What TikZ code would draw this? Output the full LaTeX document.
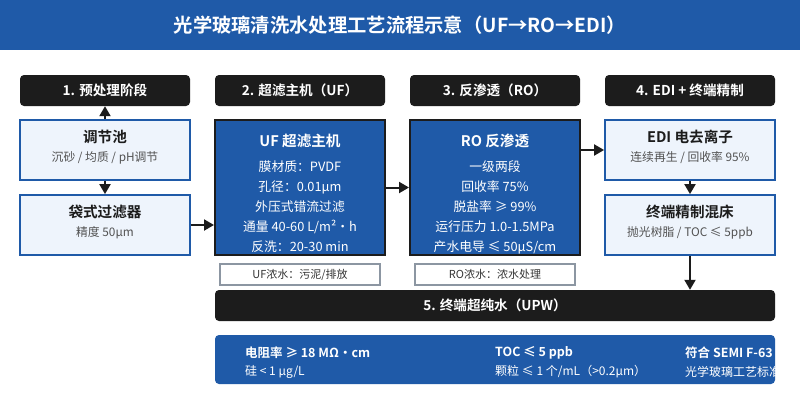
\documentclass[tikz,border=0pt]{standalone}
\usepackage{fontspec}
\setmainfont{Noto Sans CJK SC}[BoldFont={Noto Sans CJK SC Bold}]
\usetikzlibrary{arrows.meta}
\definecolor{mblue}{HTML}{1F5AA8}
\definecolor{mlight}{HTML}{EEF4FC}
\definecolor{mdark}{HTML}{1C1C1C}
\definecolor{mgray}{HTML}{8C96A2}
\definecolor{mtext}{HTML}{333333}
\begin{document}
\begin{tikzpicture}[x=1pt,y=-1pt,
  hdr/.style={fill=mdark, rounded corners=4pt, minimum width=170pt, minimum height=31pt, inner sep=0pt, text=white, font=\bfseries\fontsize{13.6}{15}\selectfont},
  lbox/.style={draw=mblue, line width=1.8pt, fill=mlight, minimum width=170pt, minimum height=60pt, inner sep=0pt},
  dbox/.style={draw=mdark, line width=2pt, fill=mblue, minimum width=170pt, minimum height=135pt, inner sep=0pt},
  gbox/.style={draw=mgray, line width=1.5pt, fill=white, minimum width=160pt, minimum height=21pt, inner sep=0pt, text=mtext, font=\fontsize{11}{13}\selectfont},
  ltitle/.style={text=mdark, font=\bfseries\fontsize{14.6}{16}\selectfont, inner sep=0pt},
  lsub/.style={text=mtext!85, font=\fontsize{11.8}{13}\selectfont, inner sep=0pt},
  dtitle/.style={text=white, font=\bfseries\fontsize{14.6}{16}\selectfont, inner sep=0pt},
  dline/.style={text=white, font=\fontsize{12.8}{14}\selectfont, inner sep=0pt},
  btitle/.style={text=white, font=\bfseries\fontsize{12.5}{14}\selectfont, inner sep=0pt, anchor=west},
  bline/.style={text=white, font=\fontsize{12}{14}\selectfont, inner sep=0pt, anchor=west},
  arr/.style={draw=mdark, line width=2pt, -{Triangle[width=11pt,length=10pt]}}
]
\useasboundingbox (0,0) rectangle (800,400);
\fill[white] (0,0) rectangle (800,400);
\fill[mblue] (0,0) rectangle (800,50);
\node[text=white, font=\bfseries\fontsize{19.3}{22}\selectfont] (title) at (400,25) {光学玻璃清洗水处理工艺流程示意（UF→RO→EDI）};

% headers
\node[hdr] (h1) at (105,90.5) {1. 预处理阶段};
\node[hdr] (h2) at (300,90.5) {2. 超滤主机（UF）};
\node[hdr] (h3) at (495,90.5) {3. 反渗透（RO）};
\node[hdr] (h4) at (690,90.5) {4. EDI + 终端精制};

% column 1
\node[lbox] (jt) at (105,150) {};
\node[ltitle] (jtt) at (105,137) {调节池};
\node[lsub] (jts) at (105,158) {沉砂 / 均质 / pH调节};
\node[lbox] (dz) at (105,225) {};
\node[ltitle] (dzt) at (105,212) {袋式过滤器};
\node[lsub] (dzs) at (105,233) {精度 50μm};

% UF
\node[dbox] (uf) at (300,187.5) {};
\node[dtitle] (uft) at (300,141) {UF 超滤主机};
\node[dline] (uf1) at (300,167) {膜材质：PVDF};
\node[dline] (uf2) at (300,187) {孔径：0.01μm};
\node[dline] (uf3) at (300,207) {外压式错流过滤};
\node[dline] (uf4) at (300,227) {通量 40-60 L/m²・h};
\node[dline] (uf5) at (300,247) {反洗：20-30 min};

% RO
\node[dbox] (ro) at (495,187.5) {};
\node[dtitle] (rot) at (495,141) {RO 反渗透};
\node[dline] (ro1) at (495,167) {一级两段};
\node[dline] (ro2) at (495,187) {回收率 75\%};
\node[dline] (ro3) at (495,207) {脱盐率 ≥ 99\%};
\node[dline] (ro4) at (495,227) {运行压力 1.0-1.5MPa};
\node[dline] (ro5) at (495,247) {产水电导 ≤ 50μS/cm};

% column 4
\node[lbox] (edi) at (690,150) {};
\node[ltitle] (edit) at (690,137) {EDI 电去离子};
\node[lsub] (edis) at (690,158) {连续再生 / 回收率 95\%};
\node[lbox] (zd) at (690,225) {};
\node[ltitle] (zdt) at (690,212) {终端精制混床};
\node[lsub] (zds) at (690,233) {抛光树脂 / TOC ≤ 5ppb};

% concentrate notes
\node[gbox] (ufn) at (300,274.5) {UF浓水：污泥/排放};
\node[gbox] (ron) at (495,274.5) {RO浓水：浓水处理};

% UPW bar
\node[hdr, minimum width=560pt] (upw) at (495,305.5) {5. 终端超纯水（UPW）};

% bottom spec box
\node[fill=mblue, rounded corners=4pt, minimum width=560pt, minimum height=49pt, inner sep=0pt] (spec) at (495,359.5) {};
\begin{scope}
\clip (215,335) rectangle (775,384);
\node[btitle] (s1a) at (245,353) {电阻率 ≥ 18 MΩ・cm};
\node[bline] (s1b) at (245,372) {硅 < 1 μg/L};
\node[btitle] (s2a) at (495,353) {TOC ≤ 5 ppb};
\node[bline] (s2b) at (495,372) {颗粒 ≤ 1 个/mL（>0.2μm）};
\node[btitle] (s3a) at (685,353) {符合 SEMI F-63 标准};
\node[bline] (s3b) at (685,372) {光学玻璃工艺标准};
\end{scope}

% arrows
\draw[arr] (jt.north) -- (h1.south);
\draw[arr] (jt.south) -- (dz.north);
\draw[arr] (dz.east) -- (dz.east -| uf.west);
\draw[arr] (uf.east) -- (ro.west);
\draw[arr] (ro.east |- edi.west) -- (edi.west);
\draw[arr] (edi.south) -- (zd.north);
\draw[arr] (zd.south) -- (zd.south |- upw.north);
\end{tikzpicture}
\end{document}
